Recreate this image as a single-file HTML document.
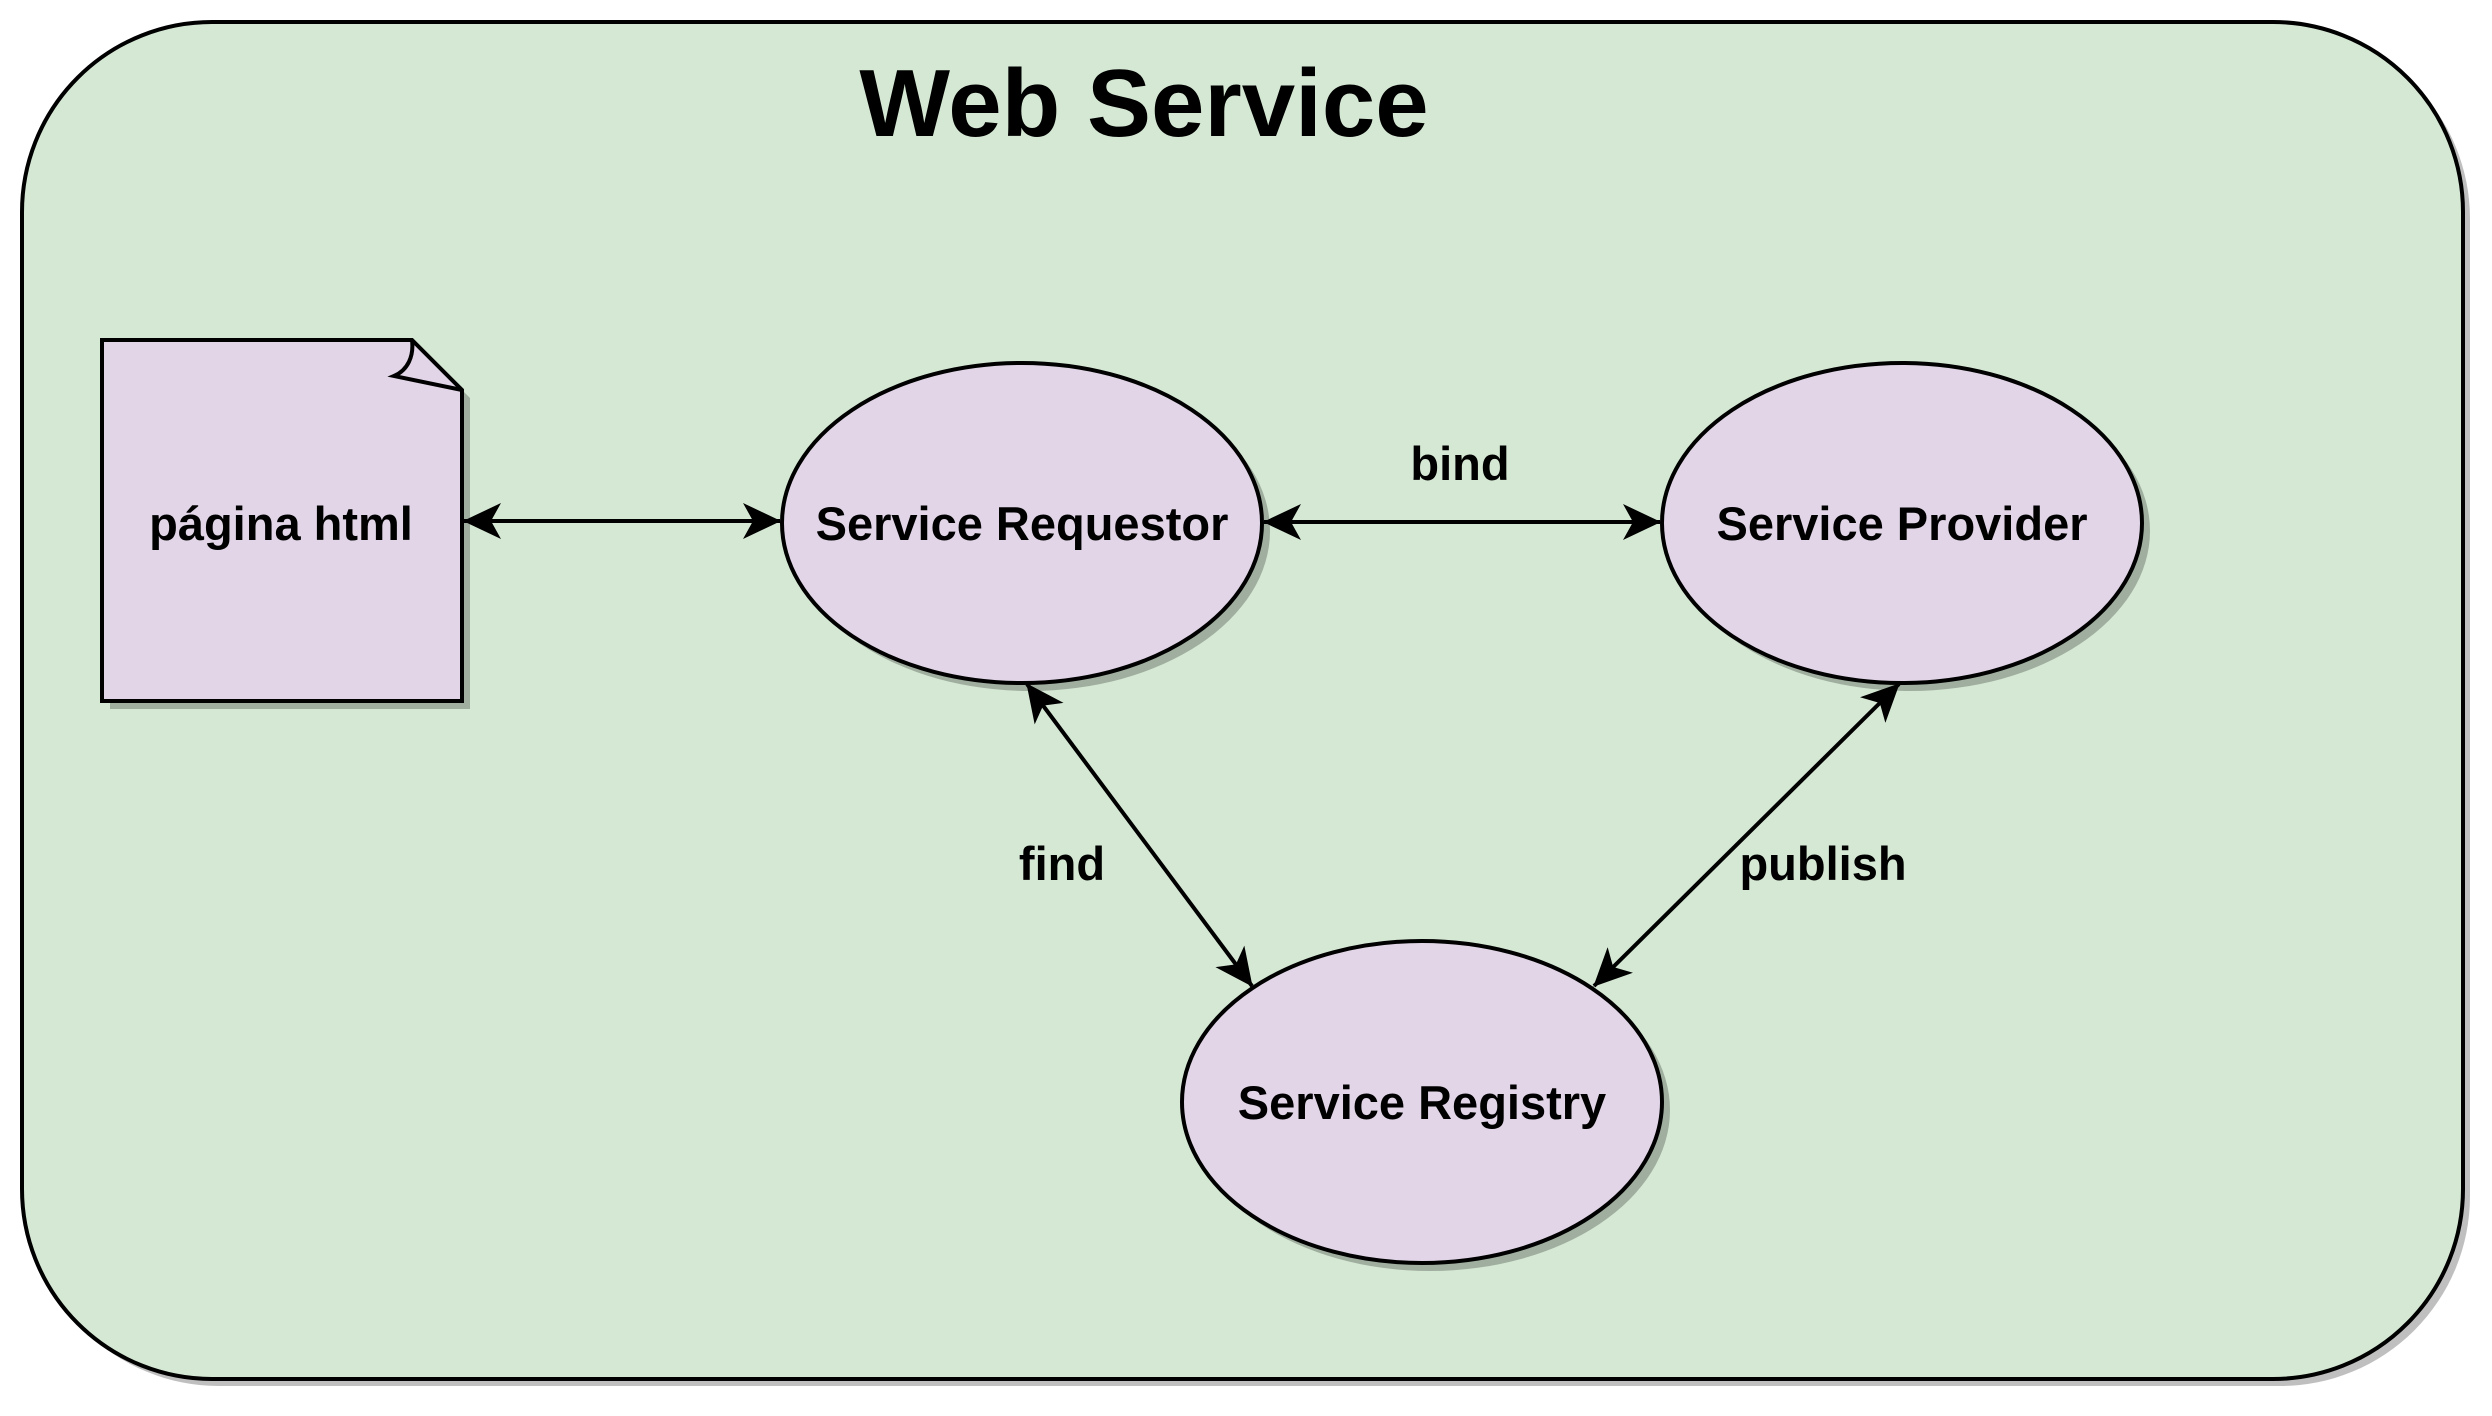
<!DOCTYPE html>
<html><head><meta charset="utf-8"><style>html,body{margin:0;padding:0;background:#fff}svg{display:block}</style></head>
<body>
<svg width="2492" height="1416" viewBox="0 0 2492 1416" xmlns="http://www.w3.org/2000/svg" font-family="Liberation Sans, Arial, sans-serif" font-weight="bold">
<defs>
<marker id="a" viewBox="0 0 38 38" refX="37" refY="19" markerWidth="38" markerHeight="38" markerUnits="userSpaceOnUse" orient="auto-start-reverse">
<path d="M0,1 L38,19 L0,37 L10,19 Z" fill="#000"/>
</marker>
</defs>
<rect x="29" y="29" width="2441" height="1357" rx="190" ry="190" fill="#000" opacity="0.25"/>
<rect x="22" y="22" width="2441" height="1357" rx="190" ry="190" fill="#d5e8d4" stroke="#000" stroke-width="4"/>
<text x="1144" y="136" font-size="96" text-anchor="middle">Web Service</text>

<g fill="#000" opacity="0.25">
<path d="M110,348 H420 L470,398 V709 H110 Z"/>
<ellipse cx="1030" cy="531" rx="240" ry="160"/>
<ellipse cx="1910" cy="531" rx="240" ry="160"/>
<ellipse cx="1430" cy="1110" rx="240" ry="161"/>
</g>

<path d="M102,340 H412 L462,390 V701 H102 Z" fill="#e1d5e7" stroke="#000" stroke-width="4"/>
<path d="M412,340 C414,356 408,370 394,376 L462,390" fill="none" stroke="#000" stroke-width="4"/>
<text x="281" y="540" font-size="47" text-anchor="middle">página html</text>

<ellipse cx="1022" cy="523" rx="240" ry="160" fill="#e1d5e7" stroke="#000" stroke-width="4"/>
<text x="1022" y="540" font-size="47" text-anchor="middle">Service Requestor</text>
<ellipse cx="1902" cy="523" rx="240" ry="160" fill="#e1d5e7" stroke="#000" stroke-width="4"/>
<text x="1902" y="540" font-size="47" text-anchor="middle">Service Provider</text>
<ellipse cx="1422" cy="1102" rx="240" ry="161" fill="#e1d5e7" stroke="#000" stroke-width="4"/>
<text x="1422" y="1119" font-size="47" text-anchor="middle">Service Registry</text>

<g stroke="#000" stroke-width="4" fill="none" marker-start="url(#a)" marker-end="url(#a)">
<line x1="464" y1="521" x2="780" y2="521"/>
<line x1="1264" y1="522" x2="1660" y2="522"/>
<line x1="1027" y1="684" x2="1252" y2="986"/>
<line x1="1899" y1="684" x2="1594" y2="986"/>
</g>
<text x="1460" y="480" font-size="47" text-anchor="middle">bind</text>
<text x="1062" y="880" font-size="47" text-anchor="middle">find</text>
<text x="1823" y="880" font-size="47" text-anchor="middle">publish</text>
</svg>
</body></html>
